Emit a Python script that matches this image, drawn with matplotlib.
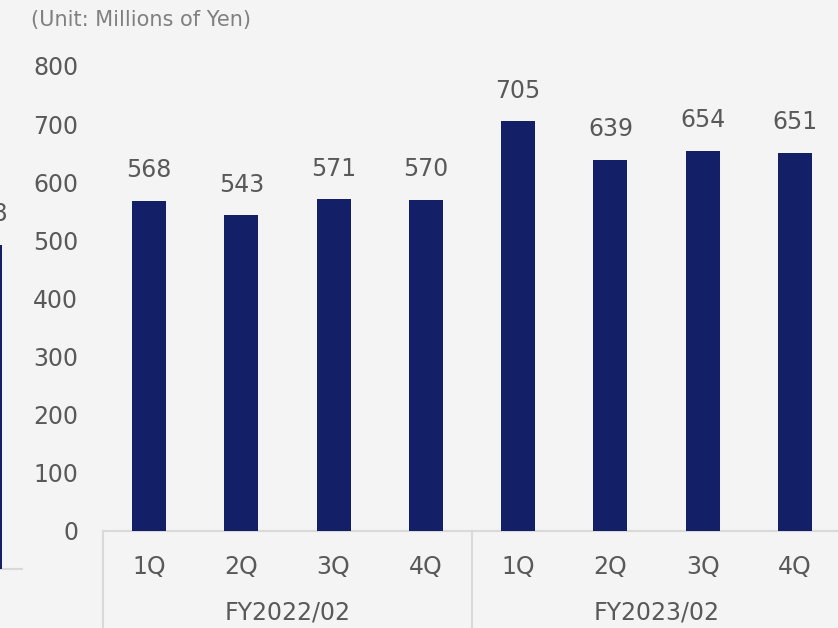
import matplotlib.pyplot as plt
from matplotlib.transforms import blended_transform_factory

# quarterly sales, millions of yen
quarters = ["1Q", "2Q", "3Q", "4Q", "1Q", "2Q", "3Q", "4Q"]
years = ["FY2022/02", "FY2023/02"]
sales = [568, 543, 571, 570, 705, 639, 654, 651]

# tail of the neighbouring chart on the left
prev_sales = [558]

bg = "#f4f4f4"
navy = "#131f66"
txt = "#595959"
line = "#d9d9d9"

W, H = 838, 628
fig = plt.figure(figsize=(W / 100, H / 100), dpi=100, facecolor=bg)

def px_box(left, right, bottom, top):
    return [left / W, 1 - bottom / H, (right - left) / W, (bottom - top) / H]

ax = fig.add_axes(px_box(103, 841, 531, 66))
ax.set_facecolor(bg)
x = range(len(sales))
ax.bar(x, sales, width=0.37, color=navy, zorder=3)
for xi, v in zip(x, sales):
    ax.annotate(str(v), (xi, v), xytext=(0, 22), textcoords="offset points",
                ha="center", va="center", fontsize=17, color=txt)

ax.set_xlim(-0.5, len(sales) - 0.5)
ax.set_ylim(0, 800)
ax.set_yticks(range(0, 801, 100))
ax.tick_params(axis="y", length=0, pad=18, labelsize=17, labelcolor=txt)
ax.set_xticks([])
for s in ["left", "right", "top"]:
    ax.spines[s].set_visible(False)
ax.spines["bottom"].set_color(line)
ax.spines["bottom"].set_linewidth(1.5)

# two-level category axis
tr = blended_transform_factory(ax.transData, ax.transAxes)
depth = 97 / 465
for xi, q in zip(x, quarters):
    ax.text(xi, -36 / 465, q, transform=tr, ha="center", va="center",
            fontsize=17, color=txt)
for i, yr in enumerate(years):
    ax.text(i * 4 + 1.5, -82 / 465, yr, transform=tr, ha="center", va="center",
            fontsize=17, color=txt)
for xs in [-0.5, 3.5, 7.5]:
    ax.plot([xs, xs], [0, -depth], transform=tr, color=line, lw=1.5, clip_on=False)

fig.text(31 / W, 1 - 20 / H, "(Unit: Millions of Yen)", fontsize=15,
         color="#808080", ha="left", va="center")

# neighbouring chart, mostly outside the frame
ax0 = fig.add_axes(px_box(-100, 22, 569, 104))
ax0.set_facecolor("none")
ax0.bar([0], prev_sales, width=0.37, color=navy, zorder=3)
ax0.set_xlim(-85 / 92.3, 37 / 92.3)
ax0.set_ylim(0, 800)
ax0.annotate(str(prev_sales[0]), (0, prev_sales[0]), xytext=(0, 22),
             textcoords="offset points", ha="center", va="center",
             fontsize=17, color=txt)
ax0.set_xticks([])
ax0.set_yticks([])
for s in ["left", "right", "top"]:
    ax0.spines[s].set_visible(False)
ax0.spines["bottom"].set_color(line)
ax0.spines["bottom"].set_linewidth(1.5)

fig.savefig("out.png", dpi=100, facecolor=bg)
